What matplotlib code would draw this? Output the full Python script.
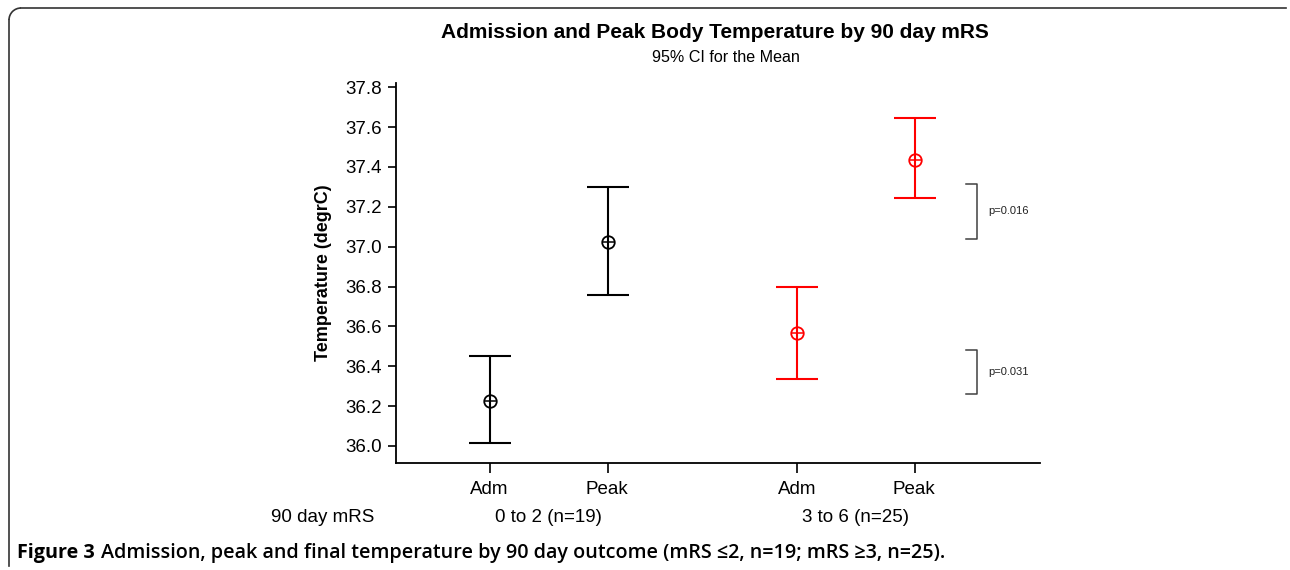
import matplotlib
matplotlib.use("Agg")
import matplotlib.pyplot as plt
from matplotlib.lines import Line2D
from matplotlib.patches import Arc

# ---- data ----
tick_labels = ["Adm", "Peak", "Adm", "Peak"]
group_labels = ["0 to 2 (n=19)", "3 to 6 (n=25)"]
x_pos = [1.0, 2.0, 3.6, 4.6]
means = [36.225, 37.025, 36.565, 37.435]
ci_low = [36.015, 36.76, 36.335, 37.245]
ci_high = [36.45, 37.30, 36.80, 37.645]
colors = ["black", "black", "#ff0000", "#ff0000"]
brackets = [(37.04, 37.315, "p=0.016"), (36.26, 36.48, "p=0.031")]
yticks = [36.0, 36.2, 36.4, 36.6, 36.8, 37.0, 37.2, 37.4, 37.6, 37.8]

W, H = 1290, 570
fig = plt.figure(figsize=(W / 100, H / 100), dpi=100)
plt.rcParams['font.family'] = ['Liberation Sans', 'DejaVu Sans']

def fx(px):
    return px / W

def fy(py):
    return 1 - py / H

ax_left, ax_right, ax_top, ax_bot = 396, 1040, 82.7, 463.3
ax = fig.add_axes([fx(ax_left), fy(ax_bot), fx(ax_right - ax_left), (ax_bot - ax_top) / H])
ax.set_xlim(0.2, 1 + (ax_right - 490) / 118)
ax.set_ylim(35.913, 37.823)

for x, m, lo, hi, c in zip(x_pos, means, ci_low, ci_high, colors):
    ax.errorbar([x], [m], yerr=[[m - lo], [hi - m]], fmt='none', ecolor=c,
                elinewidth=1.5, capsize=15, capthick=1.5)
    ax.plot([x], [m], marker='o', ms=9, mfc='none', mec=c, mew=1.3, ls='none')
    ax.plot([x], [m], marker='+', ms=9, mec=c, mew=1.1, ls='none')

bx0 = 1 + (966 - 490) / 118
bx1 = 1 + (977 - 490) / 118
tx = 1 + (988 - 490) / 118
for lo, hi, lab in brackets:
    ax.plot([bx0, bx1, bx1, bx0], [hi, hi, lo, lo], color='#404040', lw=1.1)
    ax.text(tx, (lo + hi) / 2, lab, fontsize=8, va='center', ha='left', color='#222222')

ax.set_yticks(yticks)
ax.set_yticklabels([f"{v:.1f}" for v in yticks], fontsize=13.5)
ax.set_xticks(x_pos)
ax.set_xticklabels([])
ax.tick_params(axis='y', direction='out', length=6, width=1.2, pad=4)
ax.tick_params(axis='x', direction='out', length=7, width=1.2)
for s in ['top', 'right']:
    ax.spines[s].set_visible(False)
for s in ['left', 'bottom']:
    ax.spines[s].set_linewidth(1.3)
ax.set_ylabel("Temperature (degrC)", fontsize=13, fontweight='bold', labelpad=10)

# x tick labels & group labels
for x, lab in zip([489, 607, 797, 914], tick_labels):
    fig.text(fx(x), fy(490), lab, ha='center', va='center', fontsize=13.5)
fig.text(fx(323), fy(518), "90 day mRS", ha='center', va='center', fontsize=13.5)
fig.text(fx(548), fy(518), group_labels[0], ha='center', va='center', fontsize=13.5)
fig.text(fx(855), fy(518), group_labels[1], ha='center', va='center', fontsize=13.5)

# titles
fig.text(fx(715), fy(33), "Admission and Peak Body Temperature by 90 day mRS",
         ha='center', va='center', fontsize=15, fontweight='bold')
fig.text(fx(726), fy(57), "95% CI for the Mean", ha='center', va='center', fontsize=11.6)

# caption
cap_font = ['Open Sans', 'DejaVu Sans']
t1 = fig.text(fx(17), fy(553), "Figure 3", ha='left', va='center', fontsize=14.2,
              fontweight='bold', family=cap_font)
fig.canvas.draw()
bb = t1.get_window_extent()
fig.text((bb.x1 + 6) / W, fy(553),
         "Admission, peak and final temperature by 90 day outcome (mRS \u22642, n=19; mRS \u22653, n=25).",
         ha='left', va='center', fontsize=14.2, fontweight='semibold', family=cap_font)

# frame lines (top and left with rounded corner)
r = 12
fig.add_artist(Line2D([fx(9 + r), fx(1286)], [fy(8), fy(8)], color='#333333', lw=1.2))
fig.add_artist(Line2D([fx(9), fx(9)], [fy(8 + r), fy(566)], color='#333333', lw=1.2))
fig.add_artist(Arc((fx(9 + r), fy(8 + r)), 2 * r / W, 2 * r / H, theta1=90, theta2=180,
                   color='#333333', lw=1.2, transform=fig.transFigure))

fig.savefig("out.png", dpi=100)
